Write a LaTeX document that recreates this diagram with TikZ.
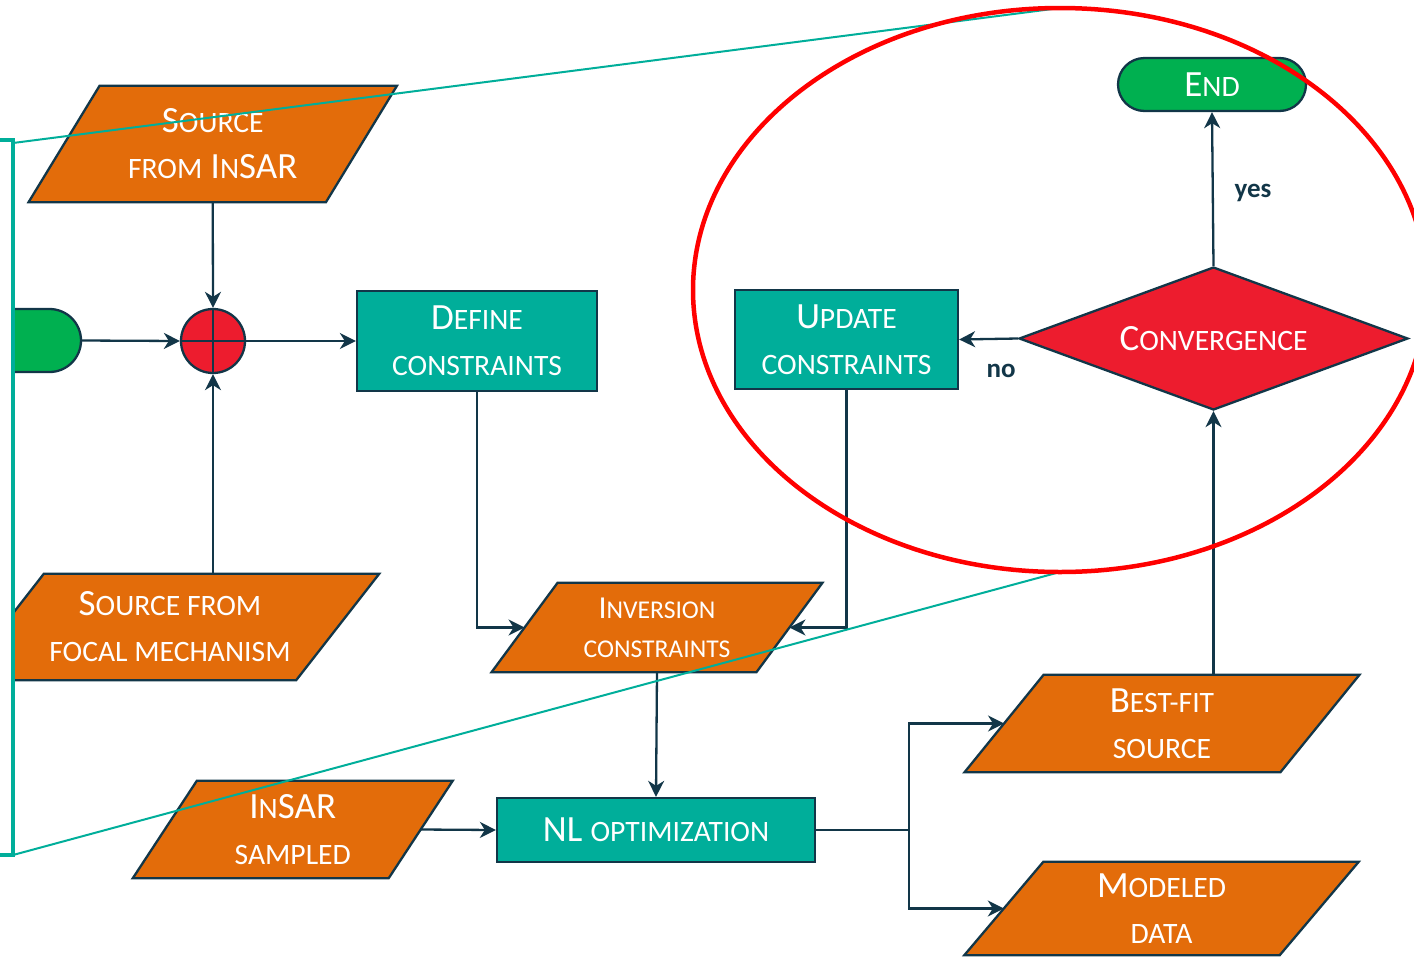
\documentclass[tikz,border=0pt]{standalone}
\usepackage{fontspec}
\setmainfont{Carlito}
\usetikzlibrary{arrows.meta,shapes.geometric,shapes.misc,backgrounds,calc}

\definecolor{flowOrange}{HTML}{E36C0A}
\definecolor{flowTeal}{HTML}{00AE9A}
\definecolor{flowRed}{HTML}{ED1C2E}
\definecolor{flowGreen}{HTML}{00B050}
\definecolor{flowInk}{HTML}{123648}
\definecolor{ringRed}{HTML}{FF0000}

% small-capital look: capitals set in a smaller size
\newlength\smsz
\newcommand\bigtext{\fontsize{37}{46}\selectfont\setlength\smsz{29.6pt}}
\newcommand\midtext{\fontsize{32}{39}\selectfont\setlength\smsz{25.6pt}}
\newcommand\sm[1]{{\fontsize{\smsz}{\baselineskip}\selectfont#1}}

\tikzset{
  base/.style={draw=flowInk, line width=2.3pt, text=white, font=\bigtext, align=center, inner sep=0pt},
  procbox/.style={base, rectangle, fill=flowTeal},
  paratext/.style={text=white, font=\bigtext, align=center, inner sep=0pt, rectangle},
  parashape/.style={fill=flowOrange, draw=flowInk, line width=2.3pt, line join=miter},
  terminal/.style={base, rounded rectangle, fill=flowGreen},
  decision/.style={base, diamond, shape aspect=2.72, fill=flowRed},
  junction/.style={base, circle, fill=flowRed},
  arr/.style={draw=flowInk, line width=2.3pt, -{Stealth[length=16pt,width=16pt,inset=5pt]}},
  link/.style={draw=flowInk, line width=2.3pt},
  tag/.style={text=flowInk, font={\fontsize{27}{30}\selectfont\bfseries}, inner sep=0pt},
  guide/.style={draw=flowTeal, line width=2pt},
}

% data (parallelogram) node: [options]{name}{cx}{cy}{width}{height}{slant}{text}
\newcommand\para[8][]{%
  \node[paratext, #1, minimum width=#5pt, minimum height=#6pt] (#2) at (#3,#4) {#8};
  \begin{pgfonlayer}{background}
    \filldraw[parashape] ([xshift=#7pt/2]#2.north west) -- ([xshift=#7pt/2]#2.north east)
      -- ([xshift=-#7pt/2]#2.south east) -- ([xshift=-#7pt/2]#2.south west) -- cycle;
  \end{pgfonlayer}}

\begin{document}
\begin{tikzpicture}[x=1pt,y=-1pt]
\useasboundingbox (0,0) rectangle (1414,959);

% start terminal and summing junction
\node[terminal, rounded rectangle left arc=none, minimum width=68pt, minimum height=63pt] (start) at (47,340.5) {};
\node[junction, minimum size=64pt] (sum) at (213,341) {};
\draw[link] (sum.north) -- (sum.south) (sum.west) -- (sum.east);

% process boxes
\node[procbox, minimum width=240pt, minimum height=100pt] (define) at (477,341) {D\sm{EFINE}\\\sm{CONSTRAINTS}};
\node[procbox, minimum width=223pt, minimum height=99pt] (update) at (846.5,339.5) {U\sm{PDATE}\\\sm{CONSTRAINTS}};
\node[procbox, minimum width=318pt, minimum height=64pt] (nlopt) at (656,830) {NL \sm{OPTIMIZATION}};

% decision and end
\node[decision, minimum width=389pt, minimum height=143pt] (conv) at (1213.5,338.5) {C\sm{ONVERGENCE}};
\node[terminal, minimum width=188pt, minimum height=53pt] (stop) at (1212,84.5) {E\sm{ND}};

% data nodes
\para{srcinsar}{212.75}{144}{297}{116}{71}{S\sm{OURCE}\\\sm{FROM} I\sm{N}SAR}
\para[font=\midtext]{inv}{657}{627.5}{264.5}{89}{66}{I\sm{NVERSION}\\\sm{CONSTRAINTS}}
\para{insar}{292.75}{829.5}{255.5}{97}{64}{I\sm{N}SAR\\\sm{SAMPLED}}
\para{best}{1162}{723.5}{315.5}{97}{79}{B\sm{EST-FIT}\\\sm{SOURCE}}
\para{model}{1161.5}{908.5}{315}{93}{79}{M\sm{ODELED}\\\sm{DATA}}

% focal-mechanism source, cut off at the bracket
\node[paratext, minimum width=335pt, minimum height=106pt] (focal) at (170,627) {S\sm{OURCE FROM}\\\sm{FOCAL MECHANISM}};
\begin{pgfonlayer}{background}
  \begin{scope}
    \clip (13,-10) rectangle (1500,1000);
    \filldraw[parashape] ([xshift=41.5pt]focal.north west) -- ([xshift=41.5pt]focal.north east)
      -- ([xshift=-41.5pt]focal.south east) -- ([xshift=-41.5pt]focal.south west) -- cycle;
  \end{scope}
\end{pgfonlayer}

% connectors
\draw[arr] (srcinsar.south) -- (sum.north);
\draw[arr] (sum.south |- focal.north) -- (sum.south);
\draw[arr] (start.east) -- (sum.west);
\draw[arr] (sum.east) -- (define.west);
\draw[arr] (define.south) |- (inv.west);
\draw[arr] (update.south) |- (inv.east);
\draw[arr] (inv.south) -- (nlopt.north);
\draw[arr] (insar.east) -- (nlopt.west);
\coordinate (split) at (909,830);
\draw[link] (nlopt.east) -- (split);
\draw[arr] (split) |- (best.west);
\draw[arr] (split) |- (model.west);
\draw[arr] (conv.south |- best.north) -- (conv.south);
\draw[arr] (conv.north) -- (stop.south);
\draw[arr] (conv.west) -- (update.east);
\node[tag] (yes) at (1253,193) {yes};
\node[tag] (no) at (1001,371) {no};

% bracket with zoom lines and highlight ring
\coordinate (brtop) at (13,143);
\coordinate (brbot) at (13,855);
\coordinate (ringtop) at (1060,8);
\coordinate (ringbot) at (1060,572);
\draw[flowTeal, line width=4pt, line join=miter] (0,140) -- (13,140) -- (13,855) -- (0,855);
\draw[guide] (brtop) -- (ringtop);
\draw[guide] (brbot) -- (ringbot);
\draw[ringRed, line width=4.5pt] (1060,290) ellipse [x radius=367pt, y radius=282pt];
\end{tikzpicture}
\end{document}
